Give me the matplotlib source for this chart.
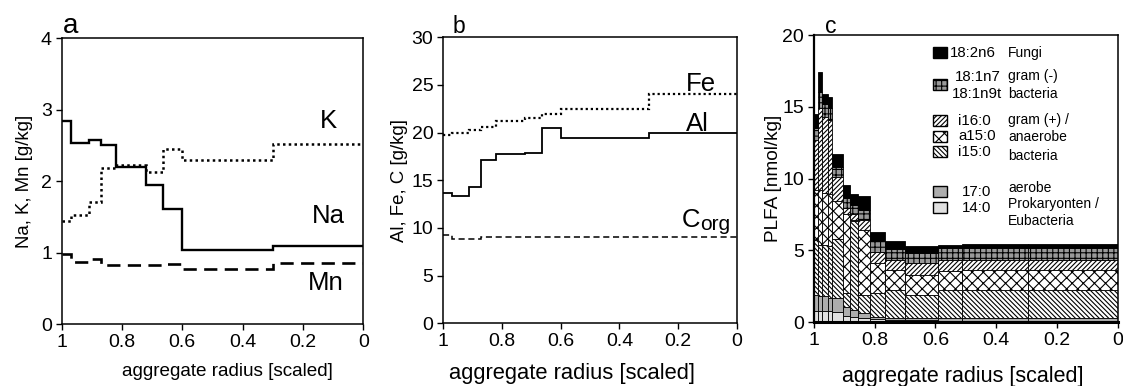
import matplotlib
matplotlib.use('Agg')
import matplotlib.pyplot as plt
from matplotlib.patches import Rectangle

plt.rcParams['font.family'] = ['Liberation Sans', 'DejaVu Sans']
plt.rcParams['hatch.linewidth'] = 0.8

# ---------------- data: panels a and b (step profiles) ----------------
edges_ab = [1.0, 0.97, 0.91, 0.87, 0.82, 0.72, 0.665, 0.6, 0.3, 0.0]
na = [2.84, 2.54, 2.58, 2.50, 2.20, 1.95, 1.61, 1.04, 1.09]
k = [1.44, 1.53, 1.71, 2.18, 2.22, 2.13, 2.45, 2.30, 2.52]
mn = [0.98, 0.87, 0.91, 0.83, 0.83, 0.82, 0.84, 0.77, 0.85]

fe = [19.8, 20.0, 20.3, 20.6, 21.2, 21.5, 22.0, 22.5, 24.1]
al = [13.7, 13.35, 14.3, 17.1, 17.8, 17.9, 20.45, 19.45, 20.0]
corg = [9.25, 8.8, 8.8, 9.1, 9.1, 9.1, 9.1, 9.1, 9.1]

# ---------------- data: panel c (stacked PLFA) ----------------
edges_c = [1.0, 0.986, 0.974, 0.955, 0.939, 0.903, 0.881, 0.854, 0.815,
           0.766, 0.70, 0.593, 0.512, 0.295, 0.0]
c14_0 = [0.8, 0.8, 0.8, 0.8, 0.7, 0.42, 0.37, 0.26, 0.2, 0.15, 0.12, 0.1, 0.1, 0.1]
c17_0 = [1.1, 1.0, 1.0, 0.9, 1.0, 0.65, 0.47, 0.34, 0.17, 0.15, 0.16, 0.16, 0.16, 0.16]
i15_0 = [3.8, 3.6, 3.6, 3.6, 4.1, 0.95, 6.2, 1.3, 1.63, 1.9, 1.62, 1.97, 1.97, 2.0]
a15_0 = [3.5, 3.8, 3.6, 3.6, 2.6, 5.5, 0.1, 4.5, 2.1, 1.4, 1.38, 1.3, 1.39, 1.36]
i16_0 = [3.5, 5.7, 5.3, 5.2, 1.7, 0.4, 0.4, 0.73, 0.75, 0.7, 0.81, 0.8, 0.7, 0.7]
gram_neg = [0.8, 1.1, 0.9, 0.8, 0.7, 0.7, 0.6, 0.7, 0.8, 0.8, 0.74, 0.8, 0.83, 0.83]
c18_2n6 = [1.0, 1.4, 0.7, 0.8, 0.9, 0.9, 0.75, 0.97, 0.6, 0.57, 0.47, 0.25, 0.3, 0.3]

xticks = [1, 0.8, 0.6, 0.4, 0.2, 0]
xticklabels = ['1', '0.8', '0.6', '0.4', '0.2', '0']
xlabel = 'aggregate radius [scaled]'

fig = plt.figure(figsize=(11.23, 3.86), dpi=100)
ax_a = fig.add_axes([0.0549, 0.1606, 0.2686, 0.7401])
ax_b = fig.add_axes([0.3945, 0.1624, 0.2618, 0.7409])
ax_c = fig.add_axes([0.7248, 0.1658, 0.2704, 0.7435])


def style(ax, ylim, yticks):
    ax.set_xlim(1, 0)
    ax.set_ylim(*ylim)
    ax.set_xticks(xticks)
    ax.set_xticklabels(xticklabels)
    ax.set_yticks(yticks)
    ax.tick_params(direction='out', length=4, width=1, labelsize=14,
                   top=False, right=False, pad=3)
    for s in ax.spines.values():
        s.set_linewidth(1.1)
        s.set_color('black')


# ---------------- panel a ----------------
ax_a.stairs(na, edges_ab, color='black', lw=1.7, baseline=None)
ax_a.stairs(k, edges_ab, color='black', lw=1.8, ls=(0, (1, 1.3)), baseline=None)
ax_a.stairs(mn, edges_ab, color='black', lw=1.9, ls=(0, (5, 2.8)), baseline=None)
style(ax_a, (0, 4), [0, 1, 2, 3, 4])
ax_a.set_ylabel('Na, K, Mn [g/kg]', fontsize=13.4)
ax_a.yaxis.set_label_coords(-0.095, 0.5)
ax_a.set_xlabel(xlabel, fontsize=13.6)
ax_a.xaxis.set_label_coords(0.55, -0.138)
ax_a.text(0.144, 2.74, 'K', fontsize=18.5, ha='left', va='baseline')
ax_a.text(0.170, 1.41, 'Na', fontsize=18.5, ha='left', va='baseline')
ax_a.text(0.183, 0.476, 'Mn', fontsize=18.5, ha='left', va='baseline')
ax_a.text(0.004, 1.018, 'a', fontsize=20, transform=ax_a.transAxes,
          ha='left', va='baseline')

# ---------------- panel b ----------------
ax_b.stairs(fe, edges_ab, color='black', lw=1.6, ls=(0, (1, 1.3)), baseline=None)
ax_b.stairs(al, edges_ab, color='black', lw=1.3, baseline=None)
ax_b.stairs(corg, edges_ab, color='black', lw=1.1, ls=(0, (4, 2.4)), baseline=None)
style(ax_b, (0, 30), [0, 5, 10, 15, 20, 25, 30])
ax_b.set_ylabel('Al, Fe, C [g/kg]', fontsize=13.4)
ax_b.yaxis.set_label_coords(-0.12, 0.5)
ax_b.set_xlabel(xlabel, fontsize=15.8)
ax_b.xaxis.set_label_coords(0.437, -0.14)
ax_b.text(0.173, 24.4, 'Fe', fontsize=18.5, ha='left', va='baseline')
ax_b.text(0.173, 20.2, 'Al', fontsize=18.5, ha='left', va='baseline')
ax_b.text(0.187, 10.1, 'C', fontsize=18.5, ha='left', va='baseline')
ax_b.text(0.127, 9.75, 'org', fontsize=15, ha='left', va='baseline')
ax_b.text(0.031, 1.015, 'b', fontsize=16.5, transform=ax_b.transAxes,
          ha='left', va='baseline')

# ---------------- panel c ----------------
layers = [
    (c14_0, dict(facecolor='0.88', hatch=None)),
    (c17_0, dict(facecolor='0.68', hatch=None)),
    (i15_0, dict(facecolor='white', hatch='\\' * 7)),
    (a15_0, dict(facecolor='white', hatch='xxx')),
    (i16_0, dict(facecolor='white', hatch='/' * 7)),
    (gram_neg, dict(facecolor='0.6', hatch='+++')),
    (c18_2n6, dict(facecolor='black', hatch=None)),
]
lefts = edges_c[:-1]
widths = [edges_c[i + 1] - edges_c[i] for i in range(len(edges_c) - 1)]
bottom = [0.0] * len(lefts)
for vals, st in layers:
    ax_c.bar(lefts, vals, width=widths, bottom=bottom, align='edge',
             edgecolor='black', linewidth=0.6, **st)
    bottom = [b + v for b, v in zip(bottom, vals)]

style(ax_c, (0, 20), [0, 5, 10, 15, 20])
ax_c.spines['bottom'].set_linewidth(2.2)
ax_c.spines['left'].set_linewidth(1.6)
ax_c.set_ylabel('PLFA [nmol/kg]', fontsize=13.7)
ax_c.yaxis.set_label_coords(-0.105, 0.5)
ax_c.set_xlabel(xlabel, fontsize=15.5)
ax_c.xaxis.set_label_coords(0.489, -0.155)
ax_c.text(0.036, 1.007, 'c', fontsize=16.5, transform=ax_c.transAxes,
          ha='left', va='baseline')

# legend (drawn manually to mimic the original layout)
leg_patches = [
    (0.920, layers[6][1]),
    (0.808, layers[5][1]),
    (0.683, layers[4][1]),
    (0.627, layers[3][1]),
    (0.575, layers[2][1]),
    (0.4355, layers[1][1]),
    (0.380, layers[0][1]),
]
for yb, st in leg_patches:
    ax_c.add_patch(Rectangle((0.392, yb), 0.046, 0.037, transform=ax_c.transAxes,
                             edgecolor='black', linewidth=1.0, **st))

codes = [
    (0.448, 0.938, '18:2n6'), (0.464, 0.855, '18:1n7'), (0.455, 0.794, '18:1n9t'),
    (0.474, 0.701, 'i16:0'), (0.474, 0.648, 'a15:0'), (0.474, 0.593, 'i15:0'),
    (0.487, 0.454, '17:0'), (0.487, 0.396, '14:0'),
]
groups = [
    (0.938, 'Fungi'), (0.857, 'gram (-)'), (0.794, 'bacteria'),
    (0.704, 'gram (+) /'), (0.645, 'anaerobe'), (0.578, 'bacteria'),
    (0.467, 'aerobe'), (0.411, 'Prokaryonten /'), (0.353, 'Eubacteria'),
]
for x, y, t in codes:
    ax_c.text(x, y, t, transform=ax_c.transAxes, fontsize=10.8,
              ha='left', va='center')
for y, t in groups:
    ax_c.text(0.639, y, t, transform=ax_c.transAxes, fontsize=10,
              ha='left', va='center')

fig.savefig('out.png', dpi=100)
